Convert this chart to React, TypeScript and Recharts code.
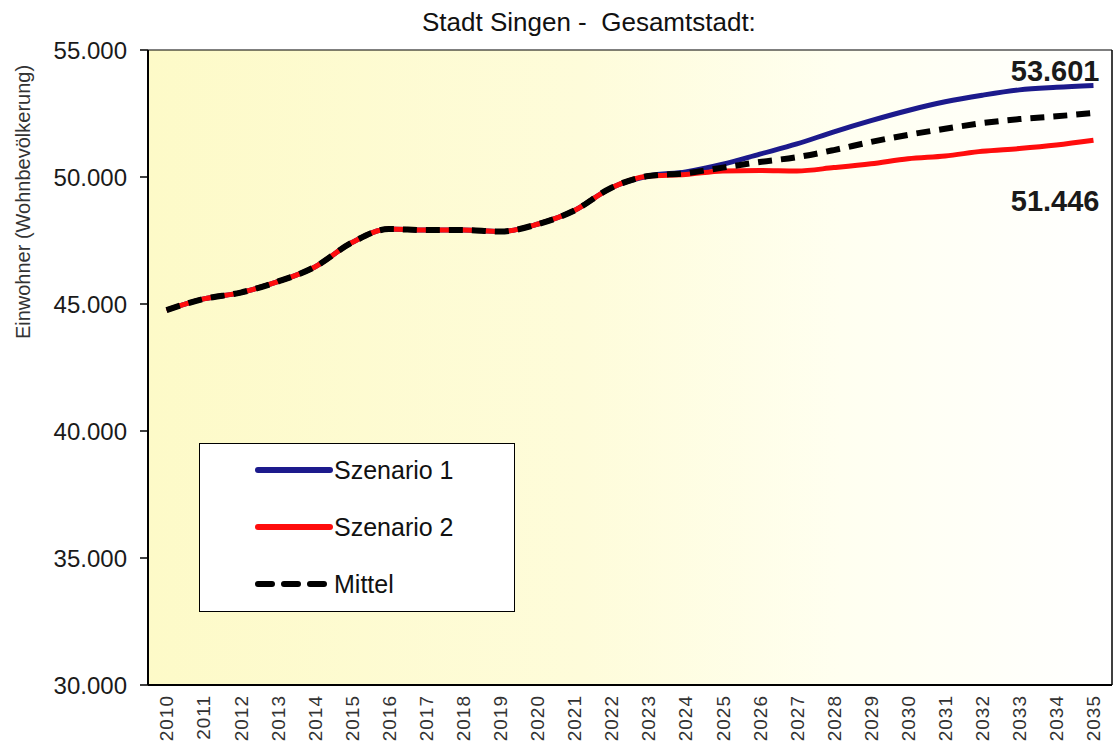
import React from 'react';
import { LineChart, Line, XAxis, YAxis, CartesianGrid, Legend, LabelList } from 'recharts';

const years = [2010, 2011, 2012, 2013, 2014, 2015, 2016, 2017, 2018, 2019, 2020, 2021, 2022,
  2023, 2024, 2025, 2026, 2027, 2028, 2029, 2030, 2031, 2032, 2033, 2034, 2035];

const szenario1 = [44760, 45200, 45450, 45880, 46460, 47420, 47950, 47910, 47910, 47850, 48140, 48680, 49580,
  50040, 50200, 50500, 50900, 51300, 51780, 52220, 52620, 52960, 53220, 53430, 53530, 53601];

const szenario2 = [44760, 45200, 45450, 45880, 46460, 47420, 47950, 47910, 47910, 47850, 48140, 48680, 49580,
  50040, 50100, 50240, 50260, 50240, 50370, 50520, 50720, 50830, 51010, 51120, 51260, 51446];

const mittel = [44760, 45200, 45450, 45880, 46460, 47420, 47950, 47910, 47910, 47850, 48140, 48680, 49580,
  50040, 50150, 50370, 50590, 50780, 51060, 51380, 51660, 51900, 52120, 52280, 52390, 52520];

const yTicks = [30000, 35000, 40000, 45000, 50000, 55000];

const series = [
  { key: 's1', name: 'Szenario 1', color: '#1c1a8c', dash: undefined as string | undefined },
  { key: 's2', name: 'Szenario 2', color: '#ff0d0d', dash: undefined as string | undefined },
  { key: 'm', name: 'Mittel', color: '#000000', dash: '14 9' },
];

const data = years.map((year, i) => ({ year, s1: szenario1[i], s2: szenario2[i], m: mittel[i] }));
const boundaries = [...years.map((y) => y - 0.5), years[years.length - 1] + 0.5];
const domain: [number, number] = [boundaries[0], boundaries[boundaries.length - 1]];

const FONT = '"Liberation Sans", Arial, sans-serif';
const fmt = (v: number) => String(Math.round(v)).replace(/\B(?=(\d{3})+(?!\d))/g, '.');

const YearTick = (props: any) => {
  const { x, y, payload } = props;
  return (
    <text x={x} y={y} transform={`rotate(-90 ${x} ${y})`} textAnchor="end" dy="0.36em"
      fontSize={19} letterSpacing={1} fill="#333" fontFamily={FONT}>
      {payload.value}
    </text>
  );
};

const LegendBox = () => (
  <div style={{ width: 316, height: 169, border: '1px solid #000', background: '#fff', boxSizing: 'border-box' }}>
    <svg width={314} height={167}>
      {series.map((s, i) => (
        <g key={s.key}>
          <line x1={58} x2={130} y1={26 + i * 57} y2={26 + i * 57} stroke={s.color} strokeWidth={6}
            strokeLinecap="round" strokeDasharray={s.dash ? '14 12' : undefined} />
          <text x={134} y={26 + i * 57} dy="0.36em" fontSize={25} fontFamily={FONT} fill="#111">{s.name}</text>
        </g>
      ))}
    </svg>
  </div>
);

const endLabel = (dx: number, dy: number) => (props: any) => {
  const { x, y, index, value } = props;
  if (index !== years.length - 1) return null;
  return (
    <text x={x + dx} y={y + dy} textAnchor="end" fontSize={29} fontWeight="bold" fill="#1a1a1a" fontFamily={FONT}>
      {fmt(value)}
    </text>
  );
};

export default function App() {
  return (
    <div style={{ position: 'absolute', left: 0, top: 0, width: 1113, height: 746, background: '#fff', fontFamily: FONT }}>
      <div style={{ position: 'absolute', left: 422, top: 9, fontSize: 26, lineHeight: '26px', whiteSpace: 'pre', color: '#111' }}>
        Stadt Singen -  Gesamtstadt:
      </div>
      <LineChart width={1113} height={746} data={data} margin={{ top: 50, right: 0, left: 0, bottom: 0 }}>
        <defs>
          <linearGradient id="plotBg" x1="0" y1="0" x2="1" y2="0">
            <stop offset="0%" stopColor="#fdfac8" />
            <stop offset="45%" stopColor="#fefcda" />
            <stop offset="72%" stopColor="#fffff0" />
            <stop offset="100%" stopColor="#ffffff" />
          </linearGradient>
        </defs>
        <CartesianGrid vertical={false} stroke="#000" strokeWidth={1.2} fill="url(#plotBg)" fillOpacity={1} />
        <XAxis xAxisId="bnd" type="number" domain={domain} ticks={boundaries} allowDecimals
          tick={() => <g />} tickSize={8} height={8} axisLine={{ stroke: '#000', strokeWidth: 2 }}
          tickLine={{ stroke: '#000', strokeWidth: 1.5 }} />
        <XAxis xAxisId="yr" dataKey="year" type="number" domain={domain} ticks={years}
          axisLine={false} tickLine={false} tickSize={0} tickMargin={2} height={53} tick={<YearTick />} />
        <YAxis yAxisId="l" domain={[30000, 55000]} ticks={yTicks} width={148} tickFormatter={fmt}
          tick={{ fontSize: 24, fill: '#1a1a1a', fontFamily: FONT }} tickSize={8} tickMargin={13}
          axisLine={{ stroke: '#000', strokeWidth: 2 }} tickLine={{ stroke: '#000', strokeWidth: 1.5 }}
          label={{
            content: () => (
              <text x={30} y={202} transform="rotate(-90 30 202)" textAnchor="middle" fontSize={20}
                fill="#333" fontFamily={FONT}>
                Einwohner (Wohnbevölkerung)
              </text>
            ),
          }} />
        <YAxis yAxisId="r" orientation="right" domain={[30000, 55000]} width={1} tick={false} tickLine={false}
          axisLine={{ stroke: '#000', strokeWidth: 1.5 }} />
        <Legend layout="vertical" align="center" verticalAlign="middle" content={<LegendBox />}
          wrapperStyle={{ position: 'absolute', left: 199, top: 443, width: 316, height: 169 }} />
        {series.map((s) => (
          <Line key={s.key} xAxisId="yr" yAxisId="l" type="monotone" dataKey={s.key} name={s.name}
            stroke={s.color} strokeWidth={s.dash ? 6 : 5} strokeDasharray={s.dash} dot={false}
            activeDot={false} isAnimationActive={false}>
            {s.key === 's1' && <LabelList dataKey="s1" content={endLabel(6, -5)} />}
            {s.key === 's2' && <LabelList dataKey="s2" content={endLabel(6, 71)} />}
          </Line>
        ))}
      </LineChart>
    </div>
  );
}
